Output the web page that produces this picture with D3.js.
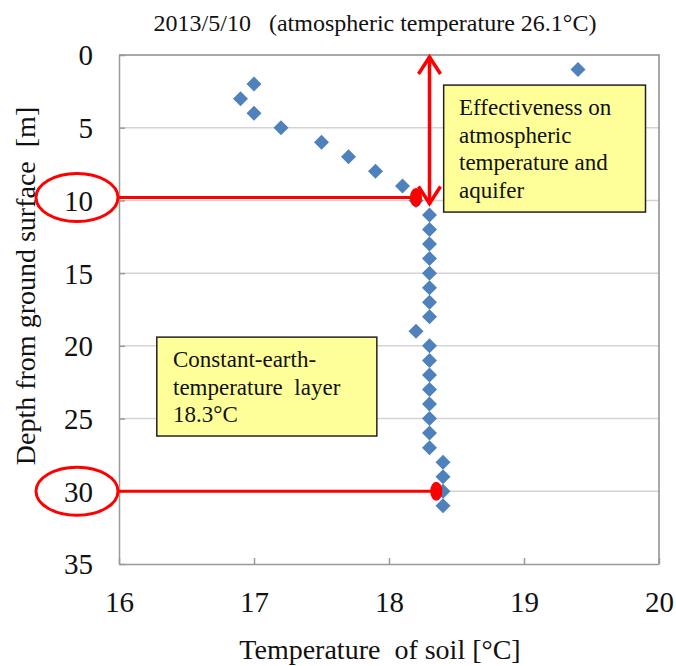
<!DOCTYPE html>
<html>
<head>
<meta charset="utf-8">
<script src="https://cdn.jsdelivr.net/npm/d3@7"></script>
</head>
<body style="margin:0;padding:0;background:#fff">
<svg id="chart" width="676" height="666" style="display:block"></svg>
<script>
// ---- data ----
const depths = [1,2,3,4,5,6,7,8,9,10,11,12,13,14,15,16,17,18,19,20,21,22,23,24,25,26,27,28,29,30,31];
const temps  = [19.4,17.0,16.9,17.0,17.2,17.5,17.7,17.9,18.1,18.2,
                18.3,18.3,18.3,18.3,18.3,18.3,18.3,18.3,18.2,
                18.3,18.3,18.3,18.3,18.3,18.3,18.3,18.3,
                18.4,18.4,18.4,18.4];
const xTicks = [16,17,18,19,20];
const yTicks = [0,5,10,15,20,25,30,35];
const markTemps  = [18.2, 18.35];
const markDepths = [9.8, 30];
const arrowTemp = 18.3;
const arrowDepths = [0, 10];
const titleText = "2013/5/10\u00a0\u00a0\u00a0(atmospheric temperature 26.1\u00b0C)";
const xLabel = "Temperature\u00a0 of soil [\u00b0C]";
const yLabel = "Depth from ground surface\u00a0 [m]";
const box1Lines = ["Effectiveness on", "atmospheric", "temperature and", "aquifer"];
const box2Lines = ["Constant-earth-", "temperature\u00a0 layer", "18.3\u00b0C"];

// ---- layout ----
const FONT = "'Liberation Serif', 'Times New Roman', serif";
const svg = d3.select("#chart");
const pL = 119, pR = 659, pT = 55, pB = 564;
const x = d3.scaleLinear().domain([16, 20]).range([pL, pR]);
const y = d3.scaleLinear().domain([0, 35]).range([pT, pB]);
const red = "#ff0000";

// gridlines
svg.append("g").selectAll("line").data(yTicks.filter(d => d > 0 && d < 35)).join("line")
  .attr("x1", pL).attr("x2", pR)
  .attr("y1", d => y(d)).attr("y2", d => y(d))
  .attr("stroke", "#d4d4d4").attr("stroke-width", 1.5);

// plot border (top, right)
svg.append("path")
  .attr("d", `M${pL},${pT}H${pR}V${pB}`)
  .attr("fill", "none").attr("stroke", "#8c8c8c").attr("stroke-width", 1.5);

// axes
const xAxis = svg.append("g").attr("transform", `translate(0,${pB})`)
  .call(d3.axisBottom(x).tickValues(xTicks).tickSizeInner(-6).tickSizeOuter(0).tickPadding(48).tickFormat(d3.format("d")));
const yAxis = svg.append("g").attr("transform", `translate(${pL},0)`)
  .call(d3.axisLeft(y).tickValues(yTicks).tickSizeInner(-6).tickSizeOuter(0).tickPadding(26).tickFormat(d3.format("d")));
[xAxis, yAxis].forEach(a => {
  a.select(".domain").attr("stroke", "#9a9a9a").attr("stroke-width", 1.5);
  a.selectAll(".tick line").attr("stroke", "#9a9a9a").attr("stroke-width", 1.5);
  a.selectAll(".tick text").style("font-size", "29px").style("font-family", FONT).attr("fill", "#111");
});
xAxis.selectAll(".tick text").attr("dy", "0em");
yAxis.selectAll(".tick text").attr("dy", "0.34em");

// titles
svg.append("text").attr("x", 375).attr("y", 31).attr("text-anchor", "middle")
  .style("font-size", "24px").style("font-family", FONT).attr("fill", "#111").text(titleText);
svg.append("text").attr("x", 380).attr("y", 659).attr("text-anchor", "middle")
  .style("font-size", "28px").style("font-family", FONT).attr("fill", "#111").text(xLabel);
svg.append("text").attr("transform", `translate(35,286) rotate(-90)`).attr("text-anchor", "middle")
  .style("font-size", "28px").style("font-family", FONT).attr("fill", "#111").text(yLabel);

// data points (diamonds)
const dsz = 7.5;
svg.append("g").selectAll("path").data(depths).join("path")
  .attr("d", (d, i) => {
    const cx = x(temps[i]), cy = y(d);
    return `M${cx},${cy - dsz}L${cx + dsz},${cy}L${cx},${cy + dsz}L${cx - dsz},${cy}Z`;
  })
  .attr("fill", "#4f81bd");

// red horizontal markers
markDepths.forEach((d, i) => {
  svg.append("line").attr("x1", pL).attr("x2", x(markTemps[i]))
    .attr("y1", y(d)).attr("y2", y(d)).attr("stroke", red).attr("stroke-width", 3);
  svg.append("ellipse").attr("cx", x(markTemps[i])).attr("cy", y(d))
    .attr("rx", 6).attr("ry", 9.5).attr("fill", red);
  svg.append("ellipse").attr("cx", 77).attr("cy", y(d))
    .attr("rx", 41).attr("ry", 24).attr("fill", "none").attr("stroke", red).attr("stroke-width", 3);
});

// double-headed arrow
const ax = x(arrowTemp), ay0 = y(arrowDepths[0]) + 1, ay1 = y(arrowDepths[1]) + 4;
svg.append("line").attr("x1", ax).attr("x2", ax).attr("y1", ay0).attr("y2", ay1)
  .attr("stroke", red).attr("stroke-width", 3.5);
svg.append("path").attr("d", `M${ax - 11},${ay0 + 18}L${ax},${ay0 + 1}L${ax + 11},${ay0 + 18}`)
  .attr("fill", "none").attr("stroke", red).attr("stroke-width", 3.5).attr("stroke-linejoin", "miter");
svg.append("path").attr("d", `M${ax - 11},${ay1 - 18}L${ax},${ay1 - 1}L${ax + 11},${ay1 - 18}`)
  .attr("fill", "none").attr("stroke", red).attr("stroke-width", 3.5).attr("stroke-linejoin", "miter");

// annotation boxes
function box(t0, t1, d0, d1, lines, tx, firstBase) {
  svg.append("rect").attr("x", x(t0)).attr("y", y(d0))
    .attr("width", x(t1) - x(t0)).attr("height", y(d1) - y(d0))
    .attr("fill", "#ffff99").attr("stroke", "#222").attr("stroke-width", 1.5);
  svg.append("g").selectAll("text").data(lines).join("text")
    .attr("x", tx).attr("y", (d, i) => firstBase + i * 27.5)
    .style("font-size", "23px").style("font-family", FONT).attr("fill", "#111").text(d => d);
}
box(18.405, 19.9, 2.07, 10.8, box1Lines, 459, 115);
box(16.28, 17.91, 19.4, 26.2, box2Lines, 173, 367);
</script>
</body>
</html>
